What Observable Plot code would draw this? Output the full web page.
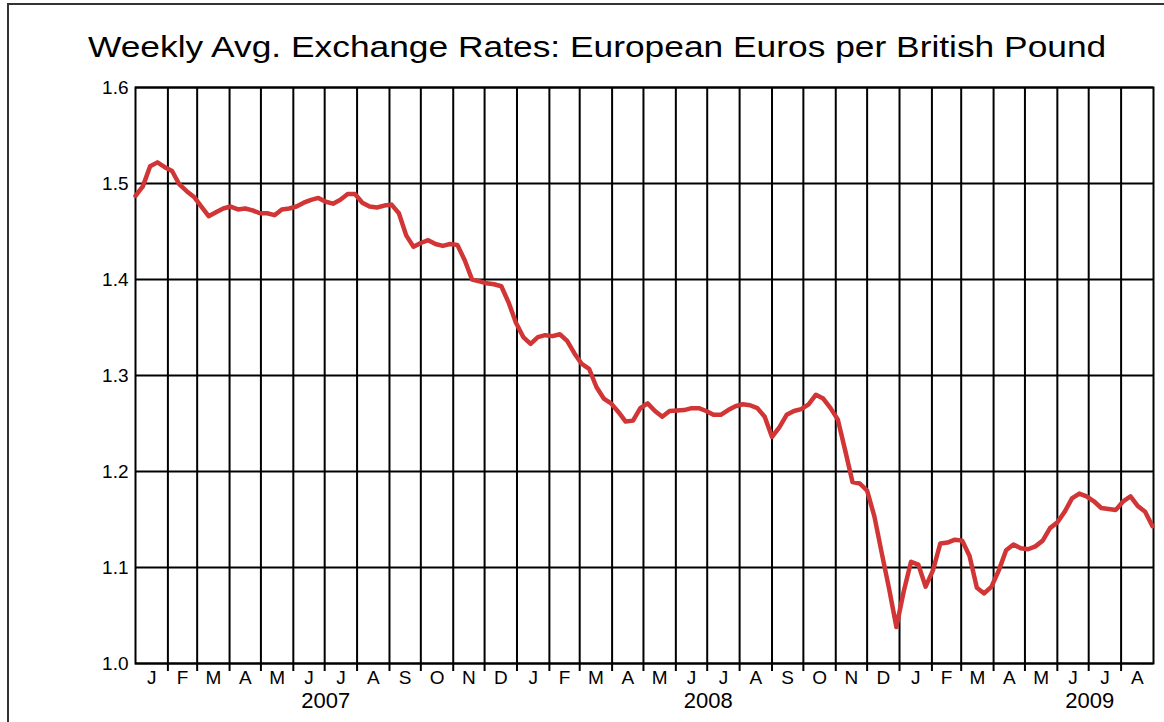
<!DOCTYPE html>
<html><head><meta charset="utf-8">
<script src="https://cdn.jsdelivr.net/npm/d3@7"></script>
<script src="https://cdn.jsdelivr.net/npm/@observablehq/plot@0.6"></script>
<style>
body{margin:0;background:#fff;}
#wrap{position:relative;width:1164px;height:722px;overflow:hidden;font-family:"Liberation Sans",Arial,sans-serif;}
#border{position:absolute;left:7px;top:3px;width:1300px;height:900px;border-top:2px solid #333;border-left:2px solid #333;}
#title{position:absolute;left:88px;top:32px;font-size:30px;line-height:30px;white-space:nowrap;color:#000;transform:scaleX(1.178);transform-origin:0 0;}
#chart{position:absolute;left:0;top:0;}
</style></head>
<body>
<div id="wrap">
  <div id="border"></div>
  <div id="chart"></div>
  <div id="title"></div>
</div>
<script>
const titleText = "Weekly Avg. Exchange Rates: European Euros per British Pound";
const startWeek = "2007-01-01";
const values = [
1.487,1.497,1.518,1.522,1.517,1.513,1.499,1.492,1.486,1.476,
1.466,1.470,1.474,1.476,1.473,1.474,1.472,1.469,1.469,1.467,
1.473,1.474,1.476,1.480,1.483,1.485,1.481,1.479,1.483,1.489,
1.489,1.480,1.476,1.475,1.477,1.478,1.469,1.446,1.434,1.438,
1.441,1.437,1.435,1.437,1.436,1.420,1.400,1.398,1.396,1.395,
1.393,1.376,1.355,1.340,1.333,1.340,1.342,1.341,1.343,1.336,
1.323,1.312,1.307,1.288,1.276,1.271,1.262,1.252,1.253,1.266,
1.271,1.263,1.257,1.263,1.2635,1.264,1.266,1.266,1.263,1.259,
1.259,1.264,1.268,1.270,1.269,1.266,1.257,1.236,1.246,1.259,
1.263,1.265,1.270,1.280,1.276,1.266,1.254,1.222,1.189,1.1875,
1.180,1.153,1.115,1.078,1.038,1.075,1.106,1.103,1.080,1.097,
1.125,1.126,1.129,1.128,1.112,1.079,1.073,1.080,1.097,1.118,
1.124,1.120,1.119,1.122,1.128,1.141,1.147,1.158,1.172,1.177,
1.174,1.169,1.162,1.161,1.160,1.169,1.174,1.164,1.158,1.143
];
const yTicks = [1.0, 1.1, 1.2, 1.3, 1.4, 1.5, 1.6];
const monthLetters = ["J","F","M","A","M","J","J","A","S","O","N","D"];
const xStart = "2007-01-01";
const xEnd = "2009-09-01";
const yearLabels = ["2007","2008","2009"];

document.getElementById("title").textContent = titleText;

const start = new Date(startWeek + "T00:00:00Z");
const data = values.map((v, i) => ({date: d3.utcDay.offset(start, 7 * i), value: v}));
const x0 = new Date(xStart + "T00:00:00Z"), x1 = new Date(xEnd + "T00:00:00Z");
const monthStarts = d3.utcMonth.range(d3.utcMonth.offset(x0, 1), x1);
const monthMids = d3.utcMonth.range(x0, x1).map(d => new Date((+d + +d3.utcMonth.offset(d, 1)) / 2));
const yearMids = yearLabels.map(y => new Date(Date.UTC(+y, 6, 2)));

const chart = Plot.plot({
  width: 1164, height: 722,
  marginTop: 87, marginLeft: 135, marginRight: 11, marginBottom: 59,
  x: {type: "utc", domain: [x0, x1], label: null},
  y: {domain: [1.0, 1.6], label: null},
  style: {fontFamily: "'Liberation Sans', Arial, sans-serif", fontSize: "19px", color: "#000", background: "transparent", overflow: "visible"},
  marks: [
    Plot.ruleY(yTicks, {stroke: "#000", strokeWidth: 2, strokeOpacity: 1}),
    Plot.ruleX(monthStarts, {stroke: "#000", strokeWidth: 2, insetBottom: -8}),
    Plot.frame({stroke: "#000", strokeWidth: 2}),
    Plot.line(data, {x: "date", y: "value", stroke: "#d13535", strokeWidth: 4.5, strokeLinejoin: "round", curve: "linear"}),
    Plot.axisY({ticks: yTicks, tickFormat: d3.format(".1f"), tickSize: 0, tickPadding: 7, fontSize: 19, label: null}),
    Plot.axisX({ticks: monthMids, tickFormat: d => monthLetters[d.getUTCMonth()], tickSize: 0, tickPadding: 7, fontSize: 19, label: null}),
    Plot.axisX({ticks: yearMids, tickFormat: d => String(d.getUTCFullYear()), tickSize: 0, tickPadding: 29, fontSize: 22, label: null})
  ]
});
document.getElementById("chart").appendChild(chart);
</script>
</body></html>
